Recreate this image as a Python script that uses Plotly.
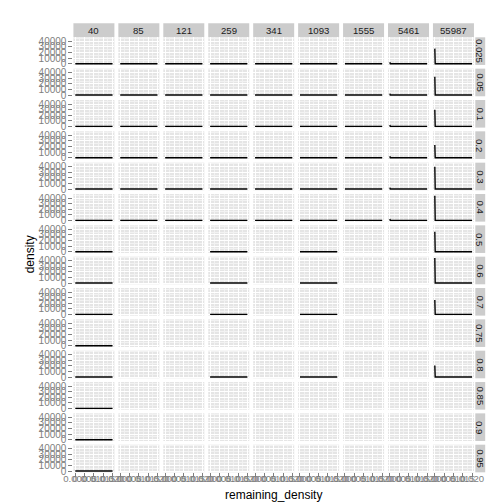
import plotly.graph_objects as go

# ---------------- data ----------------
col_labels = ["40", "85", "121", "259", "341", "1093", "1555", "5461", "55987"]
row_labels = ["0.025", "0.05", "0.1", "0.2", "0.3", "0.4", "0.5", "0.6", "0.7",
              "0.75", "0.8", "0.85", "0.9", "0.95"]

x_points = [0.0, 0.0002, 0.02]

# panels (row -> columns) that carry a density curve
present = {
    "0.025": col_labels, "0.05": col_labels, "0.1": col_labels,
    "0.2": col_labels, "0.3": col_labels, "0.4": col_labels,
    "0.5": ["40", "259", "1093", "55987"],
    "0.6": ["40", "259", "1093", "55987"],
    "0.7": ["40", "259", "1093", "55987"],
    "0.75": ["40"],
    "0.8": ["40", "259", "1093", "55987"],
    "0.85": ["40"], "0.9": ["40"], "0.95": ["40"],
}

# density at the left end of the curve
peak_55987 = {"0.025": 27000, "0.05": 32900, "0.1": 29900, "0.2": 22800,
              "0.3": 40000, "0.4": 44300, "0.5": 35700, "0.6": 45000,
              "0.7": 25600, "0.8": 20800}
peak_5461 = {"0.025": 2500, "0.05": 2500, "0.1": 2500, "0.2": 2500,
             "0.3": 2500, "0.4": 2500}

x_ticks = [0.0, 0.005, 0.010, 0.015, 0.020]
x_ticktext = ["0.000", "0.005", "0.010", "0.015", "0.020"]
x_minor = [0.0025, 0.0075, 0.0125, 0.0175]
y_ticks = [0, 10000, 20000, 30000, 40000]
y_ticktext = ["0", "10000", "20000", "30000", "40000"]
y_minor = [5000, 15000, 25000, 35000, 45000]

# ---------------- layout geometry (pixels) ----------------
W = H = 504
col_x0, col_pitch, col_w = 57.7, 46.8, 42.7
row_y0, row_pitch, row_h = 28.6, 31.65, 27.9
strip_top = 14.5
rstrip_x0, rstrip_x1 = 476.2, 486.5

FONT = "Liberation Sans, Arial, sans-serif"
GREY = "#7F7F7F"

ymax = max(list(peak_55987.values()) + list(peak_5461.values()))
y_range = [-0.05 * ymax, 1.05 * ymax]
x_range = [x_points[0] - 0.05 * (x_points[-1] - x_points[0]),
           x_points[-1] + 0.05 * (x_points[-1] - x_points[0])]

fig = go.Figure()
layout = {}
shapes = []
annotations = []

nrows, ncols = len(row_labels), len(col_labels)
for r, rl in enumerate(row_labels):
    for c, cl in enumerate(col_labels):
        k = r * ncols + c + 1
        xs = "x" if k == 1 else f"x{k}"
        ys = "y" if k == 1 else f"y{k}"
        xn = "xaxis" if k == 1 else f"xaxis{k}"
        yn = "yaxis" if k == 1 else f"yaxis{k}"
        px0 = col_x0 + c * col_pitch
        py0 = row_y0 + r * row_pitch
        layout[xn] = dict(
            domain=[px0 / W, (px0 + col_w) / W], anchor=ys, range=x_range,
            tickmode="array", tickvals=x_ticks, ticktext=x_ticktext,
            showticklabels=(r == nrows - 1), ticks="outside" if r == nrows - 1 else "",
            ticklen=4, tickcolor=GREY, tickwidth=1, tickangle=0,
            ticklabelstandoff=-7,
            tickfont=dict(family=FONT, size=9.6, color=GREY),
            showgrid=True, gridcolor="white", gridwidth=1,
            minor=dict(tickmode="array", tickvals=x_minor, showgrid=True,
                       gridcolor="#F2F2F2", gridwidth=0.5),
            zeroline=False, showline=False, fixedrange=True,
        )
        layout[yn] = dict(
            domain=[1 - (py0 + row_h) / H, 1 - py0 / H], anchor=xs, range=y_range,
            tickmode="array", tickvals=y_ticks, ticktext=y_ticktext,
            showticklabels=(c == 0), ticks="outside" if c == 0 else "",
            ticklen=4, tickcolor=GREY, tickwidth=1,
            tickfont=dict(family=FONT, size=10, color=GREY),
            showgrid=True, gridcolor="white", gridwidth=1,
            minor=dict(tickmode="array", tickvals=y_minor, showgrid=True,
                       gridcolor="#F2F2F2", gridwidth=0.5),
            zeroline=False, showline=False, fixedrange=True,
        )
        if cl in present[rl]:
            if cl == "55987":
                yv = [peak_55987[rl], 0, 0]
            elif cl == "5461" and rl in peak_5461:
                yv = [peak_5461[rl], 0, 0]
            else:
                yv = [0, 0, 0]
            fig.add_trace(go.Scatter(
                x=x_points, y=yv, xaxis=xs, yaxis=ys, mode="lines",
                line=dict(color="black", width=1.4), showlegend=False,
                hoverinfo="skip"))
        else:
            # empty panel: an empty trace so the subplot is still drawn
            fig.add_trace(go.Scatter(
                x=[None], y=[None], xaxis=xs, yaxis=ys, mode="lines",
                showlegend=False, hoverinfo="skip"))

# column strips
for c, cl in enumerate(col_labels):
    px0 = col_x0 + c * col_pitch
    shapes.append(dict(type="rect", xref="paper", yref="paper",
                       x0=px0 / W, x1=(px0 + col_w) / W,
                       y0=1 - row_y0 / H + 0.0005, y1=1 - strip_top / H,
                       fillcolor="#CCCCCC", line=dict(width=0), layer="below"))
    annotations.append(dict(x=(px0 + col_w / 2) / W, y=1 - (strip_top + row_y0) / 2 / H,
                            xref="paper", yref="paper", text=cl, showarrow=False,
                            font=dict(family=FONT, size=9.6, color="#1A1A1A"),
                            xanchor="center", yanchor="middle"))
# row strips
for r, rl in enumerate(row_labels):
    py0 = row_y0 + r * row_pitch
    shapes.append(dict(type="rect", xref="paper", yref="paper",
                       x0=rstrip_x0 / W, x1=rstrip_x1 / W,
                       y0=1 - (py0 + row_h) / H, y1=1 - py0 / H,
                       fillcolor="#CCCCCC", line=dict(width=0), layer="below"))
    annotations.append(dict(x=(rstrip_x0 + rstrip_x1) / 2 / W, y=1 - (py0 + row_h / 2) / H,
                            xref="paper", yref="paper", text=rl, showarrow=False,
                            textangle=90,
                            font=dict(family=FONT, size=9.6, color="#1A1A1A"),
                            xanchor="center", yanchor="middle"))

# axis titles
panels_left = col_x0
panels_right = col_x0 + (ncols - 1) * col_pitch + col_w
panels_top = row_y0
panels_bottom = row_y0 + (nrows - 1) * row_pitch + row_h
annotations.append(dict(x=(panels_left + panels_right) / 2 / W, y=1 - 491 / H,
                        xref="paper", yref="paper", text="remaining_density",
                        showarrow=False, font=dict(family=FONT, size=12, color="black"),
                        xanchor="center", yanchor="middle"))
annotations.append(dict(x=12 / W, y=1 - (panels_top + panels_bottom) / 2 / H,
                        xref="paper", yref="paper", text="density", textangle=-90,
                        showarrow=False, font=dict(family=FONT, size=12, color="black"),
                        xanchor="center", yanchor="middle"))

fig.update_layout(
    width=W, height=H, margin=dict(l=0, r=0, t=0, b=0),
    paper_bgcolor="white", plot_bgcolor="#E5E5E5",
    showlegend=False, shapes=shapes, annotations=annotations,
    font=dict(family=FONT),
    **layout,
)

fig.write_html("out.html")
